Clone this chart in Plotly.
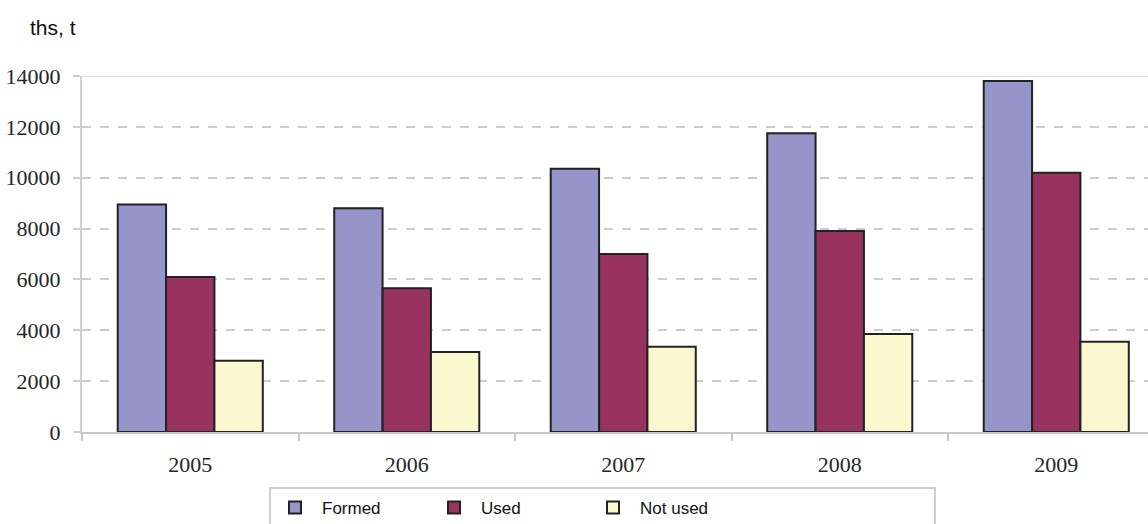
import plotly.graph_objects as go

years = ["2005", "2006", "2007", "2008", "2009"]
formed = [8950, 8800, 10350, 11750, 13800]
used = [6100, 5650, 7000, 7900, 10200]
not_used = [2800, 3150, 3350, 3850, 3550]
y_ticks = [0, 2000, 4000, 6000, 8000, 10000, 12000, 14000]

series = [
    ("Formed", formed, "#9595c9"),
    ("Used", used, "#98325f"),
    ("Not used", not_used, "#fbf8d0"),
]

W, H = 1148, 524
ML, MR, MT, MB = 82, 0, 76, 92
plot_w = W - ML - MR
plot_h = H - MT - MB

fig = go.Figure()
for name, vals, color in series:
    fig.add_trace(go.Bar(
        x=years, y=vals, name=name,
        marker=dict(color=color, line=dict(color="#222222", width=2)),
    ))

serif = dict(family="Liberation Serif, Times New Roman, serif", size=22, color="#262626")
sans = "Liberation Sans, Arial, sans-serif"

fig.update_layout(
    width=W, height=H,
    margin=dict(l=ML, r=MR, t=MT, b=MB, autoexpand=False),
    paper_bgcolor="white", plot_bgcolor="white",
    barmode="group", bargap=0.33, bargroupgap=0,
    showlegend=True,
    legend=dict(
        orientation="h",
        x=(268 - ML) / plot_w, xanchor="left",
        y=-(490 - (MT + plot_h)) / plot_h, yanchor="top",
        bgcolor="rgba(0,0,0,0)", borderwidth=0,
        itemwidth=44,
        entrywidth=100, entrywidthmode="pixels",
        font=dict(family=sans, size=17, color="#111111"),
    ),
    xaxis=dict(
        type="category",
        range=[-0.5, 4.5 - 16.5 / 216.5],
        showgrid=False,
        showline=True, linecolor="#c8c8c8", linewidth=2,
        ticks="outside", tickson="boundaries", ticklen=7,
        tickcolor="#c8c8c8", tickwidth=2,
        tickfont=serif, ticklabelstandoff=12,
    ),
    yaxis=dict(
        range=[0, 14000],
        tickvals=y_ticks, ticktext=[str(v) for v in y_ticks],
        showgrid=True, gridcolor="#cccccc", gridwidth=2, griddash="dash",
        zeroline=False,
        showline=True, linecolor="#d0d0d0", linewidth=2,
        ticks="outside", ticklen=7, tickcolor="#d0d0d0", tickwidth=2,
        tickfont=serif, ticklabelstandoff=8,
    ),
)

# solid line along the top of the value range
fig.add_shape(type="line", xref="paper", yref="y", x0=0, x1=1, y0=14000, y1=14000,
              line=dict(color="#dddddd", width=2), layer="below")

# frame around the legend
fig.add_shape(type="rect", xref="paper", yref="paper",
              x0=(270 - ML) / plot_w, x1=(935 - ML) / plot_w,
              y0=-(560 - (MT + plot_h)) / plot_h, y1=-(488 - (MT + plot_h)) / plot_h,
              line=dict(color="#cfcfcf", width=2), fillcolor="rgba(0,0,0,0)")

fig.add_annotation(text="ths, t", xref="paper", yref="paper",
                   x=(28 - ML) / plot_w, xanchor="left",
                   y=1 + (MT - 27) / plot_h, yanchor="middle",
                   showarrow=False, font=dict(family=sans, size=21, color="#111111"))

fig.write_html("out.html")
